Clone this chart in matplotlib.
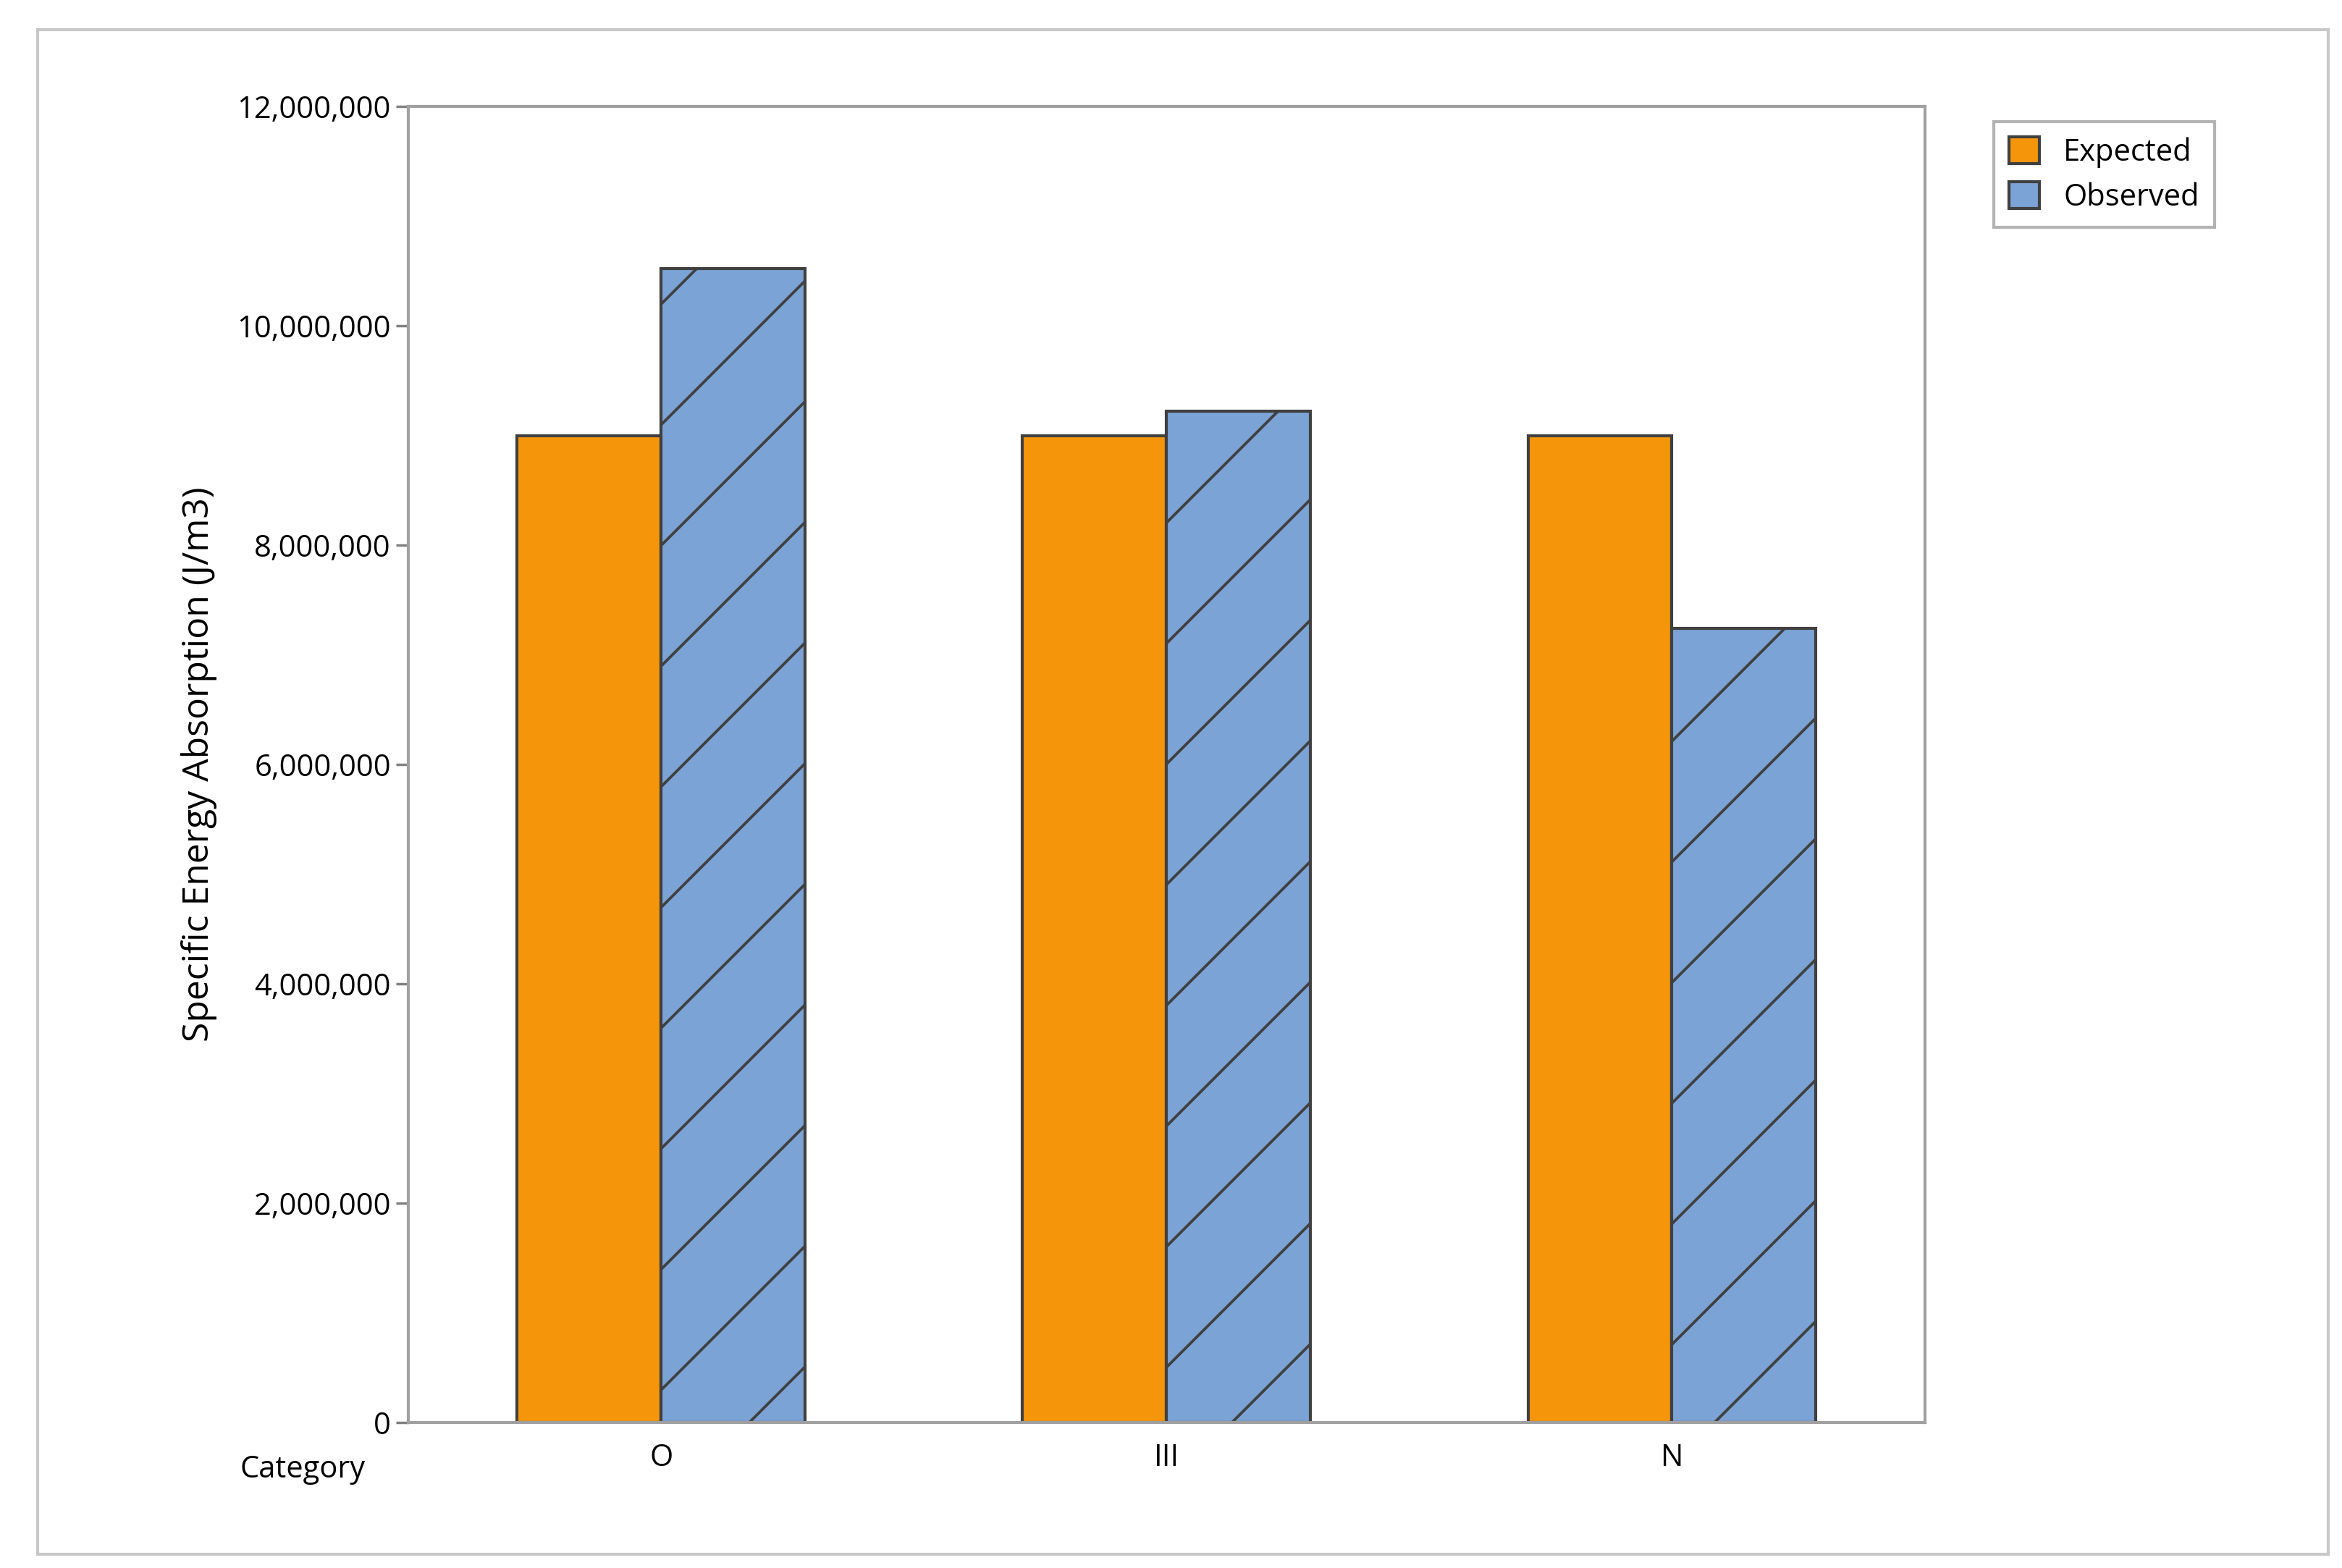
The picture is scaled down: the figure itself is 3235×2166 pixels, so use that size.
import matplotlib
matplotlib.use("Agg")
import matplotlib.pyplot as plt
from matplotlib.patches import Rectangle

categories = ["O", "III", "N"]
expected = [9000000, 9000000, 9000000]
observed = [10520000, 9220000, 7240000]
yticks = [0, 2000000, 4000000, 6000000, 8000000, 10000000, 12000000]

plt.rcParams['font.family'] = ['Open Sans', 'DejaVu Sans']
plt.rcParams['hatch.linewidth'] = 0.55
plt.rcParams['hatch.color'] = '#3a3a3a'

DPI = 500
fig = plt.figure(figsize=(3235/DPI, 2166/DPI), dpi=DPI)
fig.patches.append(Rectangle((0.016, 0.009), 0.978, 0.972, transform=fig.transFigure,
                             fill=False, edgecolor='#c8c8c8', linewidth=0.6))
ax = fig.add_axes([0.1744, 0.0929, 0.6474, 0.8391])
x = list(range(len(categories)))
w = 0.285
ax.bar([i - w/2 for i in x], expected, w, color='#F5960A', edgecolor='#404040', linewidth=0.6, label='Expected')
ax.bar([i + w/2 for i in x], observed, w, color='#7BA3D6', edgecolor='#404040', linewidth=0.6,
       hatch='/', label='Observed')
ax.set_xlim(-0.5, 2.5)
ax.set_ylim(0, 12000000)
ax.set_yticks(yticks)
ax.set_yticklabels([f"{v:,}" for v in yticks], fontsize=6)
ax.set_xticks(x)
ax.set_xticklabels(categories, fontsize=6)
ax.tick_params(axis='y', length=2.5, width=0.5, color='#808080', pad=1)
ax.tick_params(axis='x', length=0, pad=4)
for s in ax.spines.values():
    s.set_color('#a0a0a0'); s.set_linewidth(0.6)
ax.set_ylabel('Specific Energy Absorption (J/m3)', fontsize=7.2, labelpad=4)
fig.text(0.156, 0.063, 'Category', fontsize=6, ha='right', va='center')
leg = fig.legend(loc='upper left', bbox_to_anchor=(0.845, 0.932), fontsize=6,
                 frameon=True, fancybox=False, edgecolor='#a0a0a0', handlelength=1.0,
                 handleheight=1.0, borderpad=0.5, labelspacing=0.45)
leg.get_frame().set_linewidth(0.6)
fig.savefig('out.png', dpi=DPI)
